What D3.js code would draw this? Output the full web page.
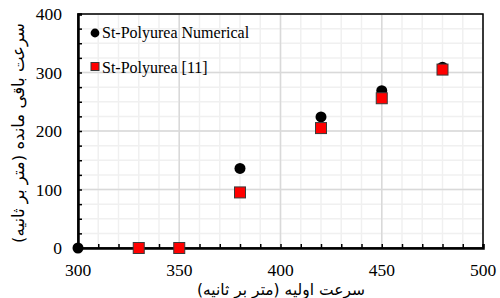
<!DOCTYPE html>
<html>
<head>
<meta charset="utf-8">
<script src="https://cdn.jsdelivr.net/npm/d3@7"></script>
<style>
  body { margin: 0; background: #fff; }
  text { font-family: "Liberation Serif", "Times New Roman", serif; }
  .fa { font-family: "DejaVu Sans", sans-serif; }
</style>
</head>
<body>
<div id="chart"></div>
<script>
// numerical results
let numX = [300, 380, 420, 450, 480];
let numY = [0, 136, 224, 269, 309];
// reference [11]
let refX = [330, 350, 380, 420, 450, 480];
let refY = [0, 0, 95, 205, 256, 305];
let xTicks = [300, 350, 400, 450, 500];
let yTicks = [0, 100, 200, 300, 400];
let seriesNames = ["St-Polyurea Numerical", "St-Polyurea [11]"];

let W = 500, H = 298;
let m = { left: 78, right: 17, top: 14, bottom: 50 };

let svg = d3.select("#chart").append("svg")
  .attr("width", W).attr("height", H);

let x = d3.scaleLinear().domain([300, 500]).range([m.left, W - m.right]);
let y = d3.scaleLinear().domain([0, 400]).range([H - m.bottom, m.top]);

let grid = svg.append("g");
// minor grid
grid.selectAll(".vmin").data(d3.range(300, 501, 10))
  .enter().append("line")
  .attr("x1", d => x(d)).attr("x2", d => x(d))
  .attr("y1", y(0)).attr("y2", y(400))
  .attr("stroke", "#f0f0f0").attr("stroke-width", 1.5);
grid.selectAll(".hmin").data(d3.range(0, 401, 25))
  .enter().append("line")
  .attr("x1", x(300)).attr("x2", x(500))
  .attr("y1", d => y(d)).attr("y2", d => y(d))
  .attr("stroke", "#f0f0f0").attr("stroke-width", 1.5);
// major grid
grid.selectAll(".vmaj").data(xTicks)
  .enter().append("line")
  .attr("x1", d => x(d)).attr("x2", d => x(d))
  .attr("y1", y(0)).attr("y2", y(400))
  .attr("stroke", "#d9d9d9").attr("stroke-width", 1.5);
grid.selectAll(".hmaj").data(yTicks)
  .enter().append("line")
  .attr("x1", x(300)).attr("x2", x(500))
  .attr("y1", d => y(d)).attr("y2", d => y(d))
  .attr("stroke", "#d9d9d9").attr("stroke-width", 1.5);

// frame
svg.append("rect")
  .attr("x", x(300)).attr("y", y(400))
  .attr("width", x(500) - x(300)).attr("height", y(0) - y(400))
  .attr("fill", "none").attr("stroke", "#000").attr("stroke-width", 1.5);

// axes with inside ticks
let xAxis = svg.append("g").attr("transform", `translate(0,${y(0)})`)
  .call(d3.axisBottom(x).tickValues(d3.range(300, 501, 10)).tickSize(-4).tickFormat(""));
let yAxis = svg.append("g").attr("transform", `translate(${x(300)},0)`)
  .call(d3.axisLeft(y).tickValues(d3.range(0, 401, 25)).tickSize(-4).tickFormat(""));
[xAxis, yAxis].forEach(a => {
  a.select(".domain").attr("stroke", "#000").attr("stroke-width", 2.5);
  a.selectAll(".tick line").attr("stroke", "#000").attr("stroke-width", 1.5);
});

// tick labels
svg.selectAll(".xl").data(xTicks).enter().append("text")
  .attr("x", d => x(d)).attr("y", y(0) + 28)
  .attr("text-anchor", "middle").attr("font-size", 17.5)
  .text(d => d);
svg.selectAll(".yl").data(yTicks).enter().append("text")
  .attr("x", x(300) - 16).attr("y", d => y(d) + 6)
  .attr("text-anchor", "end").attr("font-size", 17.5)
  .text(d => d);

// axis titles
svg.append("text").attr("class", "fa")
  .attr("x", 281).attr("y", 295)
  .attr("text-anchor", "middle").attr("font-size", 15.5)
  .attr("direction", "rtl")
  .text("سرعت اولیه (متر بر ثانیه)");
svg.append("text").attr("class", "fa")
  .attr("transform", `translate(24,${(y(0) + y(400)) / 2 + 2}) rotate(-90)`)
  .attr("text-anchor", "middle").attr("font-size", 16.5)
  .attr("direction", "rtl")
  .text("سرعت باقی مانده (متر بر ثانیه)");

// points
let sq = 11;
svg.selectAll(".num").data(numX).enter().append("circle")
  .attr("cx", d => x(d)).attr("cy", (d, i) => y(numY[i]))
  .attr("r", 5.5).attr("fill", "#000");
svg.selectAll(".ref").data(refX).enter().append("rect")
  .attr("x", d => x(d) - sq / 2).attr("y", (d, i) => y(refY[i]) - sq / 2)
  .attr("width", sq).attr("height", sq)
  .attr("fill", "#ff0000").attr("stroke", "#3a3a3a").attr("stroke-width", 1);

// legend
let lg = svg.append("g");
lg.append("circle").attr("cx", 95).attr("cy", 33).attr("r", 4.4).attr("fill", "#000");
lg.append("rect").attr("x", 91).attr("y", 62.5).attr("width", 8).attr("height", 8)
  .attr("fill", "#ff0000").attr("stroke", "#3a3a3a").attr("stroke-width", 1);
lg.selectAll(".lt").data(seriesNames).enter().append("text")
  .attr("x", 102).attr("y", (d, i) => 37.5 + i * 35)
  .attr("font-size", 16)
  .text(d => d);
</script>
</body>
</html>
